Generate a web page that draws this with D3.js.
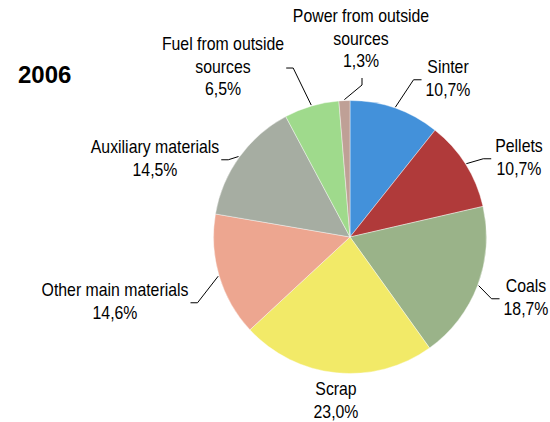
<!DOCTYPE html>
<html>
<head>
<meta charset="utf-8">
<script src="https://cdn.jsdelivr.net/npm/d3@7"></script>
<style>
  html, body { margin: 0; padding: 0; background: #fff; }
  svg { display: block; }
  text { font-family: "Liberation Sans", Arial, sans-serif; fill: #000; }
</style>
</head>
<body>
<svg id="chart" width="550" height="422"></svg>
<script>
// ---- data ----
const title = "2006";
const categories = ["Sinter", "Pellets", "Coals", "Scrap", "Other main materials",
  "Auxiliary materials", "Fuel from outside sources", "Power from outside sources"];
const labelLines = [["Sinter"], ["Pellets"], ["Coals"], ["Scrap"], ["Other main materials"],
  ["Auxiliary materials"], ["Fuel from outside", "sources"], ["Power from outside", "sources"]];
const values = [10.7, 10.7, 18.7, 23.0, 14.6, 14.5, 6.5, 1.3];
const valueLabels = ["10,7%", "10,7%", "18,7%", "23,0%", "14,6%", "14,5%", "6,5%", "1,3%"];
const colors = ["#4391DA", "#B03A3A", "#9AB389", "#F2EA68", "#EDA690", "#A6ADA2", "#9FDA8C", "#BFA096"];

// ---- layout ----
const W = 550, H = 422;
const cx = 350, cy = 237, R = 136.5;
const fontSize = 18, lineH = 22.5, squeeze = 0.88;
// label block anchor (centre x, first baseline y) relative to pie centre, and leader side
const labelLayout = [
  { dx: 98,   dy: -164, side: "left"  },   // Sinter
  { dx: 169,  dy: -85,  side: "left"  },   // Pellets
  { dx: 176,  dy: 55,   side: "left"  },   // Coals
  { dx: -14,  dy: 158,  side: "none"  },   // Scrap
  { dx: -235, dy: 59,   side: "right" },   // Other main materials
  { dx: -195, dy: -84,  side: "right" },   // Auxiliary materials
  { dx: -127, dy: -187, side: "right" },   // Fuel
  { dx: 11,   dy: -215, side: "below" }    // Power
];

const svg = d3.select("#chart");

const pie = d3.pie().sort(null).value(d => d)(values);
const arc = d3.arc().innerRadius(0).outerRadius(R);

const g = svg.append("g").attr("transform", `translate(${cx},${cy})`);
g.selectAll("path.slice").data(pie).enter().append("path")
  .attr("class", "slice")
  .attr("d", arc)
  .attr("fill", (d, i) => colors[i])
  .attr("stroke", "#ffffff")
  .attr("stroke-width", 0.4);

// labels
pie.forEach((d, i) => {
  const L = labelLayout[i];
  const lines = labelLines[i].concat([valueLabels[i]]);
  const lg = g.append("g").attr("transform", `translate(${L.dx},${L.dy})`);
  lines.forEach((t, k) => {
    lg.append("g").attr("transform", `translate(0,${k * lineH}) scale(${squeeze},1)`)
      .append("text")
      .attr("text-anchor", "middle")
      .attr("font-size", fontSize)
      .text(t);
  });

  if (L.side === "none") return;
  // leader start at outer edge of slice mid-angle
  const a = (d.startAngle + d.endAngle) / 2;
  const sx = Math.sin(a) * (R + 1), sy = -Math.cos(a) * (R + 1);
  // text block extent
  const widths = lines.map(t => {
    const tmp = g.append("text").attr("font-size", fontSize).text(t);
    const w = tmp.node().getComputedTextLength() * squeeze;
    tmp.remove();
    return w;
  });
  const maxW = d3.max(widths);
  const nL = lines.length;
  const top = L.dy - fontSize * 0.72;
  const bottom = L.dy + (nL - 1) * lineH;
  const midY = (top + bottom) / 2;
  let ex, ey, bx, by;
  if (L.side === "left") {
    ex = L.dx - maxW / 2 - 4; ey = midY + 2; bx = ex - 8; by = ey;
  } else if (L.side === "right") {
    ex = L.dx + maxW / 2 + 2; ey = midY + 2; bx = ex + 7; by = ey;
  } else { // below
    ex = L.dx + 1; ey = bottom + 11; bx = ex; by = ey + 7;
  }
  g.append("path")
    .attr("d", d3.line()([[sx, sy], [bx, by], [ex, ey]]))
    .attr("fill", "none")
    .attr("stroke", "#000")
    .attr("stroke-width", 1);
});

// title
svg.append("text")
  .attr("x", 18).attr("y", 83)
  .attr("font-size", 24)
  .attr("font-weight", "bold")
  .text(title);
</script>
</body>
</html>
